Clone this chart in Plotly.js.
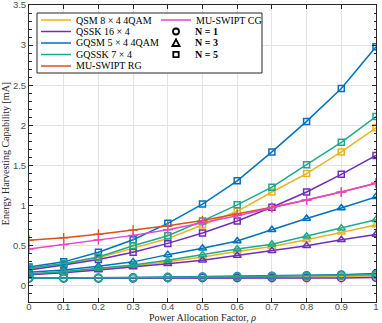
<!DOCTYPE html>
<html>
<head>
<meta charset="utf-8">
<script src="https://cdn.plot.ly/plotly-3.0.1.min.js"></script>
<style>
  html, body { margin: 0; padding: 0; background: #fff; }
  #grafica { width: 382px; height: 323px; }
</style>
</head>
<body>
<div id="grafica"></div>
<script>
// Power allocation factor
const rho = [0, 0.1, 0.2, 0.3, 0.4, 0.5, 0.6, 0.7, 0.8, 0.9, 1];

// N = 5 (squares)
const qsmN5   = [0.21, 0.27, 0.35, 0.47, 0.59, 0.76, 0.93, 1.17, 1.40, 1.67, 1.97];
const qsskN5  = [0.20, 0.26, 0.33, 0.42, 0.53, 0.66, 0.81, 0.98, 1.17, 1.39, 1.625];
const gqsmN5  = [0.235, 0.30, 0.42, 0.575, 0.78, 1.02, 1.31, 1.67, 2.05, 2.46, 2.98];
const gqsskN5 = [0.22, 0.28, 0.36, 0.50, 0.625, 0.81, 1.01, 1.23, 1.51, 1.79, 2.11];

// N = 3 (triangles)
const qsmN3   = [0.145, 0.17, 0.21, 0.25, 0.30, 0.36, 0.43, 0.49, 0.575, 0.67, 0.76];
const qsskN3  = [0.14, 0.165, 0.20, 0.235, 0.275, 0.32, 0.38, 0.44, 0.50, 0.575, 0.64];
const gqsmN3  = [0.17, 0.20, 0.245, 0.30, 0.39, 0.47, 0.56, 0.70, 0.84, 0.97, 1.11];
const gqsskN3 = [0.15, 0.18, 0.22, 0.26, 0.32, 0.39, 0.46, 0.52, 0.62, 0.72, 0.825];

// N = 1 (circles)
const qsmN1   = [0.10, 0.10, 0.10, 0.10, 0.10, 0.105, 0.105, 0.11, 0.115, 0.12, 0.125];
const qsskN1  = [0.095, 0.095, 0.095, 0.095, 0.10, 0.10, 0.10, 0.10, 0.10, 0.10, 0.105];
const gqsmN1  = [0.10, 0.10, 0.10, 0.105, 0.11, 0.115, 0.12, 0.125, 0.13, 0.14, 0.155];
const gqsskN1 = [0.10, 0.10, 0.10, 0.10, 0.105, 0.11, 0.115, 0.12, 0.125, 0.13, 0.14];

// MU-SWIPT benchmarks
const muRG = [0.57, 0.60, 0.645, 0.695, 0.75, 0.815, 0.895, 0.98, 1.07, 1.17, 1.28];
const muCG = [0.46, 0.515, 0.575, 0.63, 0.70, 0.785, 0.875, 0.975, 1.07, 1.17, 1.28];

const esquemas = ['QSM 8 × 4 4QAM', 'QSSK 16 × 4', 'GQSM 5 × 4 4QAM', 'GQSSK 7 × 4', 'MU-SWIPT RG', 'MU-SWIPT CG'];
const colores  = ['#EDB120', '#6F2DBD', '#0072BD', '#1BAA8C', '#D95319', '#E845C9'];
const etiquetasN = ['N = 1', 'N = 3', 'N = 5'];
const yTicks = [0, 0.5, 1, 1.5, 2, 2.5, 3, 3.5];

const serie = {
    5: [qsmN5, qsskN5, gqsmN5, gqsskN5],
    3: [qsmN3, qsskN3, gqsmN3, gqsskN3],
    1: [qsmN1, qsskN1, gqsmN1, gqsskN1]
};
const simbolos = { 5: 'square-open', 3: 'triangle-up-open', 1: 'circle-open' };
const tamanos  = { 5: 6, 3: 7, 1: 7.5 };

const data = [];
[5, 3, 1].forEach(n => {
    serie[n].forEach((y, i) => {
        data.push({
            x: rho, y: y, type: 'scatter', mode: 'lines+markers',
            line: { color: colores[i], width: 1.5 },
            marker: { symbol: simbolos[n], size: tamanos[n], color: colores[i], line: { width: 1.5, color: colores[i] } },
            showlegend: false, hoverinfo: 'skip'
        });
    });
});
[muRG, muCG].forEach((y, k) => {
    data.push({
        x: rho, y: y, type: 'scatter', mode: 'lines+markers',
        line: { color: colores[4 + k], width: 1.5 },
        marker: { symbol: 'cross-thin', size: 7, line: { width: 1.3, color: colores[4 + k] } },
        showlegend: false, hoverinfo: 'skip'
    });
});

// Plot area in pixels (l=29, r=376, t=5, b=302)
const L = 29, R = 376, T = 5, B = 302;
const px = x => (x - L) / (R - L);
const py = y => (B - y) / (B - T);

// Manual legend (box + lines + symbols + text)
const shapes = [{
    type: 'rect', xref: 'paper', yref: 'paper', layer: 'above',
    x0: px(37), x1: px(262), y0: py(13), y1: py(73),
    fillcolor: '#ffffff', line: { color: '#262626', width: 1 }
}];
const annotations = [];
const fuenteLeyenda = { family: 'Liberation Serif, DejaVu Serif, serif', size: 10, color: '#000' };
const filaY = [20, 31.5, 43, 54.5, 66];

esquemas.forEach((nombre, i) => {
    const col2 = i === 5;
    const y = col2 ? filaY[0] : filaY[i];
    const xl = col2 ? 161 : 41;
    shapes.push({
        type: 'line', xref: 'paper', yref: 'paper', layer: 'above',
        x0: px(xl), x1: px(xl + 30), y0: py(y), y1: py(y),
        line: { color: colores[i], width: 1.5 }
    });
    annotations.push({
        xref: 'paper', yref: 'paper', x: px(xl + 33), y: py(y),
        xanchor: 'left', yanchor: 'middle', showarrow: false,
        text: nombre, font: fuenteLeyenda
    });
});

etiquetasN.forEach((txt, j) => {
    const y = filaY[j + 1];
    const cx = 176;
    if (j === 0) {
        shapes.push({ type: 'circle', xref: 'paper', yref: 'paper', layer: 'above',
            x0: px(cx - 3), x1: px(cx + 3), y0: py(y + 3), y1: py(y - 3),
            line: { color: '#000', width: 1.8 } });
    } else if (j === 1) {
        shapes.push({ type: 'path', xref: 'paper', yref: 'paper', layer: 'above',
            path: `M ${px(cx - 3.6)} ${py(y + 3)} L ${px(cx + 3.6)} ${py(y + 3)} L ${px(cx)} ${py(y - 3.6)} Z`,
            line: { color: '#000', width: 1.8 } });
    } else {
        shapes.push({ type: 'rect', xref: 'paper', yref: 'paper', layer: 'above',
            x0: px(cx - 2.7), x1: px(cx + 2.7), y0: py(y + 2.7), y1: py(y - 2.7),
            line: { color: '#000', width: 1.8 } });
    }
    annotations.push({
        xref: 'paper', yref: 'paper', x: px(193), y: py(y),
        xanchor: 'left', yanchor: 'middle', showarrow: false,
        text: '<b>' + txt + '</b>', font: fuenteLeyenda
    });
});

const fuenteTicks = { family: 'Liberation Sans, Arial, sans-serif', size: 9.5, color: '#4d4d4d' };
const fuenteTitulo = { family: 'Liberation Serif, DejaVu Serif, serif', size: 10, color: '#262626' };

const layout = {
    width: 382, height: 323,
    margin: { l: L, r: 382 - R, t: T, b: 323 - B },
    paper_bgcolor: '#fff', plot_bgcolor: '#fff',
    showlegend: false,
    xaxis: {
        range: [0, 1], tick0: 0, dtick: 0.1,
        ticks: 'inside', ticklen: 4, tickcolor: '#262626',
        showline: true, linecolor: '#262626', linewidth: 1, mirror: 'ticks',
        showgrid: true, gridcolor: '#e3e3e3', gridwidth: 1, zeroline: false,
        tickfont: fuenteTicks, ticklabelstandoff: -4,
        title: { text: 'Power Allocation Factor, <i>ρ</i>', font: fuenteTitulo, standoff: 1 }
    },
    yaxis: {
        range: [-0.2, 3.5], tickmode: 'array', tickvals: yTicks,
        ticktext: yTicks.map(String),
        ticks: 'inside', ticklen: 4, tickcolor: '#262626',
        minor: { dtick: 0.1, tick0: 0, ticks: 'inside', ticklen: 2.5, tickcolor: '#262626', showgrid: false },
        showline: true, linecolor: '#262626', linewidth: 1, mirror: 'ticks',
        showgrid: true, gridcolor: '#e3e3e3', gridwidth: 1, zeroline: false,
        tickfont: fuenteTicks, ticklabeloverflow: 'allow',
        title: { text: 'Energy Harvesting Capability [mA]', font: fuenteTitulo, standoff: 6 }
    },
    shapes: shapes,
    annotations: annotations
};

Plotly.newPlot('grafica', data, layout, { displayModeBar: false, staticPlot: true });
</script>
</body>
</html>
